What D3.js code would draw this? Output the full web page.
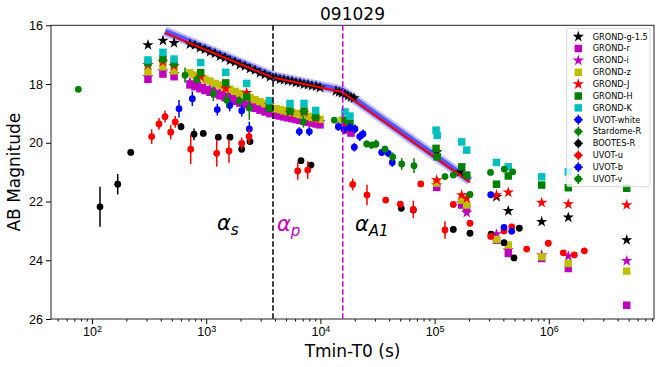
<!DOCTYPE html>
<html lang="en">
<head>
<meta charset="UTF-8">
<title>091029</title>
<script src="https://d3js.org/d3.v7.min.js"></script>
<style>
  body { margin: 0; background: #fff; }
  svg { font-family: "DejaVu Sans", sans-serif; }
  .tick text { font-size: 12.5px; fill: #000; }
  .tick line { stroke: #000; }
</style>
</head>
<body>
<svg id="chart" width="664" height="367"></svg>
<script>
// ---- data: [time since trigger (s), AB mag] ----
const grondG = [
  [309,16.67],[418,16.52],[523,16.60],
  [721,16.64],[798,16.68],[883,16.77],[976,16.82],[1080,16.91],[1194,16.96],[1321,17.05],[1461,17.10],
  [1616,17.20],[1788,17.25],[1977,17.34],[2187,17.39],[2418,17.48],[2675,17.53],[2959,17.62],[3273,17.67],[3620,17.76],
  [4085,17.79],[4428,17.84],[4801,17.85],[5203,17.89],[5640,17.90],[6113,17.95],[6628,17.96],[7185,18.01],
  [7787,18.02],[8442,18.06],[9151,18.07],[9920,18.12],
  [13700,18.24],[14550,18.28],[15460,18.31],[16420,18.35],[17450,18.40],[18530,18.45],[19690,18.48],
  [104300,20.32],[166900,20.99],[348300,21.84],[441900,22.32],[866400,22.69],[1482000,22.54],[4810000,23.31]
];
const grondR = [
  [309,17.84],[418,17.66],[523,17.75],
  [721,18.03],[798,18.09],[883,18.16],[976,18.22],[1080,18.28],[1194,18.34],[1321,18.40],[1461,18.46],
  [1616,18.52],[1788,18.59],[1977,18.65],[2187,18.71],[2418,18.77],[2675,18.83],[2959,18.89],[3273,18.95],[3620,19.01],
  [4085,19.06],[4428,19.09],[4801,19.12],[5203,19.15],[5640,19.18],[6113,19.21],[6628,19.24],[7185,19.27],
  [7787,19.30],[8442,19.33],[9151,19.36],[9920,19.39],
  [16420,19.50],[18530,19.67],
  [104300,21.52],[172700,22.12],[191000,22.22],[348300,23.32],[441900,23.77],[866400,23.94],[1482000,24.28],[4810000,25.53]
];
const grondI = [
  [309,17.76],[418,17.56],[523,17.66],
  [721,17.93],[798,18.00],[883,18.05],[976,18.12],[1080,18.18],[1194,18.25],[1321,18.30],[1461,18.37],
  [1616,18.42],[1788,18.49],[1977,18.55],[2187,18.62],[2418,18.67],[2675,18.74],[2959,18.79],[3273,18.86],[3620,18.91],
  [4085,18.97],[4428,18.99],[4801,19.03],[5203,19.05],[5640,19.09],[6113,19.11],[6628,19.15],[7185,19.17],
  [7787,19.21],[8442,19.23],[9151,19.27],[9920,19.29],
  [15460,19.40],[17450,19.57],
  [104300,21.44],[172700,22.05],[191000,22.38],[348300,23.11],[441900,23.65],[866400,23.82],[1482000,23.86],[4810000,24.02]
];
const grondZ = [
  [309,17.58],[418,17.41],[523,17.55],
  [721,17.62],[798,17.70],[883,17.76],[976,17.84],[1080,17.90],[1194,17.98],[1321,18.04],[1461,18.12],
  [1616,18.18],[1788,18.25],[1977,18.32],[2187,18.39],[2418,18.46],[2675,18.53],[2959,18.60],[3273,18.67],[3620,18.74],
  [4085,18.84],[4428,18.87],[4801,18.91],[5203,18.94],[5640,18.97],[6113,19.00],[6628,19.04],[7185,19.07],
  [7787,19.10],[8442,19.14],[9151,19.17],[9920,19.20],
  [15460,19.23],[17450,19.33],
  [104300,21.37],[172700,21.95],[191000,22.12],[348300,23.29],[441900,23.48],[866400,23.88],[1482000,24.11],[4810000,24.37]
];
const grondJ = [
  [309,17.35],[418,17.24],[523,17.38],[895,17.75],[1482,18.15],[2262,18.30],[3570,18.71],[5417,18.97],
  [7185,18.97],[9095,19.19],[16420,19.43],[18160,19.50],
  [104300,21.27],[172700,21.78],[191000,21.89],[348300,21.78],[441900,21.69],[866400,22.04],[1482000,22.09],[4810000,22.12]
];
const grondH = [
  [309,17.28],[418,17.15],[523,17.30],[895,17.61],[1482,17.96],[2262,18.44],[3570,18.82],[5417,18.92],
  [7185,18.92],[9095,19.13],[16420,19.23],[18160,19.34],
  [103000,20.19],[105500,20.48],[172700,20.82],[191000,21.10],[348300,21.41],[441900,21.13],[866400,21.44],
  [1482000,21.53],[4810000,21.55]
];
const grondK = [
  [309,17.18],[418,16.92],[523,17.15],[895,17.27],[1482,17.60],[2262,17.98],[3570,18.57],[5417,18.66],
  [7185,18.66],[9095,18.90],[16420,18.95],[18160,19.09],
  [103000,19.57],[105500,19.75],[172700,19.97],[191000,20.25],[348300,20.67],[441900,20.82],[866400,21.16],[1482000,20.99]
];
// [time, mag, error]
const uvotWhite = [
  [578,18.84,0.30],[756,18.50,0.25],[1251,18.87,0.20],[1606,18.73,0.20],[2046,18.91,0.20],[2385,19.53,0.25],
  [6535,19.62,0.15],[7997,19.62,0.15],[14350,19.45,0.15],[16100,19.55,0.15],[18160,19.48,0.15],[20090,19.53,0.15],
  [22090,19.79,0.15],[23600,19.70,0.15],[19810,20.15,0.15],[34420,20.33,0.12],[39320,20.36,0.12],[42620,20.67,0.15],
  [310000,21.77,0.10]
];
const stardomeR = [
  [75.9,18.18,0.05],[652,17.70,0.26],[826,17.85,0.10],[1154,18.33,0.25],[1512,18.55,0.25],[1949,18.57,0.15],
  [2385,18.82,0.40],[7085,19.28,0.20],[13240,19.23,0.10]
];
const bootesR = [
  [117.5,22.18,0.68],[167.9,21.41,0.35],[218.3,20.33,0.08],[602,19.45,0.12],[782,19.71,0.20],[943,19.68,0.08],
  [1276,19.81,0.05],[1616,19.81,0.05],[2046,20.22,0.08],[2418,19.96,0.08],[6762,20.61,0.08],[8275,20.76,0.08],
  [51090,22.23,0.08],[65100,22.29,0.08],[145800,22.95,0.05],[204200,23.08,0.05],[311900,23.11,0.05],
  [405300,23.40,0.05],[495900,23.92,0.05],[551800,22.91,0.05]
];
const uvotU = [
  [333,19.79,0.25],[386,19.36,0.20],[436,19.11,0.20],[489,19.64,0.25],[536,19.29,0.20],[732,20.22,0.50],
  [1236,20.36,0.45],[1583,20.28,0.40],[2046,20.02,0.20],[2370,19.79,0.25],[6328,20.96,0.30],[7743,20.93,0.30],
  [19180,21.42,0.20],[25590,21.78,0.35],[37310,21.95,0.10],[50070,22.09,0.10],[65100,22.27,0.30],[75730,21.40,0.10],
  [123300,22.97,0.30],[145800,22.10,0.10],[204200,22.74,0.10],[310000,23.19,0.10],[405300,23.00,0.10],
  [473300,22.86,0.10],[640600,23.62,0.10],[990000,23.42,0.10],[1340000,23.75,0.10],[1672000,23.82,0.10],[2047000,23.68,0.10]
];
const uvotB = [
  [405300,22.88,0.10],[473300,23.01,0.10]
];
const uvotV = [
  [25440,20.04,0.12],[28130,20.08,0.12],[30680,20.04,0.15],[36790,20.22,0.12],[42960,20.48,0.15],[51500,20.72,0.20],
  [66000,20.78,0.25],[123300,21.15,0.10],[145800,21.10,0.10],[204200,21.76,0.10],[308800,21.01,0.05],
  [407700,20.90,0.05],[483000,20.99,0.05]
];
// broken power-law fit (time, mag) and break times
const fitT = [436, 3846, 15460, 204000];
const fitM = [16.26, 17.78, 18.27, 21.34];
const breakTimes = [3846, 15700];
const xTicks = [1e2, 1e3, 1e4, 1e5, 1e6];
const yTicks = [16, 18, 20, 22, 24, 26];

// ---- layout ----
const margin = { top: 25.3, right: 10, bottom: 48, left: 51 },
      width = 664 - margin.left - margin.right,
      height = 367 - margin.top - margin.bottom;

const svg = d3.select("#chart");
const g = svg.append("g").attr("transform", `translate(${margin.left},${margin.top})`);

const x = d3.scaleLog().domain([43.75, 8.34e6]).range([0, width]);
const y = d3.scaleLinear().domain([16, 26]).range([0, height]);

// minor ticks on log axis
const minor = [];
for (let e = 1; e <= 6; e++) for (let k = 2; k <= 9; k++) {
  const v = k * Math.pow(10, e);
  if (v > x.domain()[0] && v < x.domain()[1]) minor.push(v);
}
g.append("g").attr("transform", `translate(0,${height})`)
  .call(d3.axisBottom(x).tickValues(minor).tickSize(2.5).tickFormat(""))
  .call(a => a.select(".domain").remove());

const xAxis = g.append("g").attr("transform", `translate(0,${height})`)
  .call(d3.axisBottom(x).tickValues(xTicks).tickSize(5).tickPadding(3).tickFormat(""));
xAxis.select(".domain").remove();
xAxis.selectAll(".tick text").each(function(d) {
  const t = d3.select(this);
  t.append("tspan").text("10");
  t.append("tspan").attr("dy", "-0.45em").style("font-size", "9px").text(Math.round(Math.log10(d)));
});

const yAxis = g.append("g")
  .call(d3.axisLeft(y).tickValues(yTicks).tickSize(5).tickPadding(3));
yAxis.select(".domain").remove();

// frame
g.append("rect").attr("width", width).attr("height", height)
  .attr("fill", "none").attr("stroke", "#222").attr("stroke-width", 1);

// ---- fit line ----
const fitData = d3.zip(fitT, fitM);
const line = d3.line().x(d => x(d[0])).y(d => y(d[1]));
const bandLine = d3.line().x(d => x(d[0])).y(d => y(d[1] - 0.05));
g.append("path").datum(fitData).attr("d", bandLine)
  .attr("fill", "none").attr("stroke", "#0000ff").attr("stroke-opacity", 0.25).attr("stroke-width", 10);
g.append("path").datum(fitData).attr("d", bandLine)
  .attr("fill", "none").attr("stroke", "#0000ff").attr("stroke-opacity", 0.55).attr("stroke-width", 6);

// ---- markers ----
function drawSymbols(data, color, type, size) {
  g.append("g").selectAll("path").data(data).join("path")
    .attr("transform", d => `translate(${x(d[0])},${y(d[1])})`)
    .attr("d", d3.symbol().type(type).size(size))
    .attr("fill", color);
}
function drawErr(data, color) {
  const s = g.append("g");
  s.selectAll("line").data(data).join("line")
    .attr("x1", d => x(d[0])).attr("x2", d => x(d[0]))
    .attr("y1", d => y(d[1] - d[2])).attr("y2", d => y(d[1] + d[2]))
    .attr("stroke", color).attr("stroke-width", 1.5);
  s.selectAll("circle").data(data).join("circle")
    .attr("cx", d => x(d[0])).attr("cy", d => y(d[1])).attr("r", 3.4)
    .attr("fill", color);
}

const series = [
  { name: "GROND-g-1.5", color: "#000000", kind: "star" },
  { name: "GROND-r", color: "#bf00bf", kind: "square" },
  { name: "GROND-i", color: "#bf00bf", kind: "star" },
  { name: "GROND-z", color: "#bfbf00", kind: "square" },
  { name: "GROND-J", color: "#ff0000", kind: "star" },
  { name: "GROND-H", color: "#008000", kind: "square" },
  { name: "GROND-K", color: "#00bfbf", kind: "square" },
  { name: "UVOT-white", color: "#0000ff", kind: "err" },
  { name: "Stardome-R", color: "#008000", kind: "err" },
  { name: "BOOTES-R", color: "#000000", kind: "err" },
  { name: "UVOT-u", color: "#ff0000", kind: "err" },
  { name: "UVOT-b", color: "#0000ff", kind: "err" },
  { name: "UVOT-v", color: "#008000", kind: "err" }
];
const seriesData = [grondG, grondR, grondI, grondZ, grondJ, grondH, grondK,
                    uvotWhite, stardomeR, bootesR, uvotU, uvotB, uvotV];

const starSize = 40, squareSize = 56;
series.forEach((s, i) => {
  if (s.kind === "star") drawSymbols(seriesData[i], s.color, d3.symbolStar, starSize);
  else if (s.kind === "square") drawSymbols(seriesData[i], s.color, d3.symbolSquare, squareSize);
  else drawErr(seriesData[i], s.color);
  if (i === 0) {
    g.append("path").datum(fitData).attr("d", line)
      .attr("fill", "none").attr("stroke", "#ff0000").attr("stroke-width", 2);
  }
});

// ---- break lines ----
g.selectAll(".brk").data(breakTimes).join("line")
  .attr("class", "brk")
  .attr("x1", d => x(d)).attr("x2", d => x(d))
  .attr("y1", 0).attr("y2", height)
  .attr("stroke", (d, i) => i === 0 ? "#000" : "#cc00cc")
  .attr("stroke-width", 1.5)
  .attr("stroke-dasharray", "5.5,2.5");

// ---- annotations ----
const notes = [
  { t: 1243, m: 22.97, sub: "s", color: "#000" },
  { t: 4170, m: 22.99, sub: "p", color: "#bf00bf" },
  { t: 20090, m: 22.99, sub: "A1", color: "#000" }
];
notes.forEach(n => {
  const t = g.append("text").attr("x", x(n.t)).attr("y", y(n.m))
    .attr("fill", n.color).style("font-size", "21px").style("font-style", "italic");
  t.append("tspan").text("α");
  t.append("tspan").attr("dy", 5).style("font-size", "15px").text(n.sub);
});

// ---- title & labels ----
svg.append("text").attr("x", margin.left + width / 2).attr("y", 20)
  .attr("text-anchor", "middle").style("font-size", "17px").text("091029");
svg.append("text").attr("x", margin.left + width / 2).attr("y", 356.5)
  .attr("text-anchor", "middle").style("font-size", "17px").text("Tmin-T0 (s)");
svg.append("text").attr("transform", `translate(20,${margin.top + height / 2}) rotate(-90)`)
  .attr("text-anchor", "middle").style("font-size", "17px").text("AB Magnitude");

// ---- legend ----
const lg = svg.append("g").attr("transform", "translate(566.7,28.3)");
lg.append("rect").attr("width", 83.3).attr("height", 158.4).attr("rx", 2)
  .attr("fill", "#fff").attr("fill-opacity", 0.8).attr("stroke", "#ccc").attr("stroke-width", 0.8);
series.forEach((s, i) => {
  const row = lg.append("g").attr("transform", `translate(11.6,${8.4 + i * 11.86})`);
  if (s.kind === "err") {
    row.append("line").attr("x1", 0).attr("x2", 0).attr("y1", -5).attr("y2", 5)
      .attr("stroke", s.color).attr("stroke-width", 1.5);
    row.append("line").attr("x1", -4.5).attr("x2", 4.5).attr("y1", 0).attr("y2", 0)
      .attr("stroke", s.color).attr("stroke-width", 1.5);
    row.append("circle").attr("r", 3.4).attr("fill", s.color);
  } else {
    row.append("path")
      .attr("d", d3.symbol().type(s.kind === "star" ? d3.symbolStar : d3.symbolSquare)
        .size(s.kind === "star" ? starSize : squareSize))
      .attr("fill", s.color);
  }
  row.append("text").attr("x", 14.4).attr("y", 2.9).style("font-size", "8.2px").text(s.name);
});
</script>
</body>
</html>
